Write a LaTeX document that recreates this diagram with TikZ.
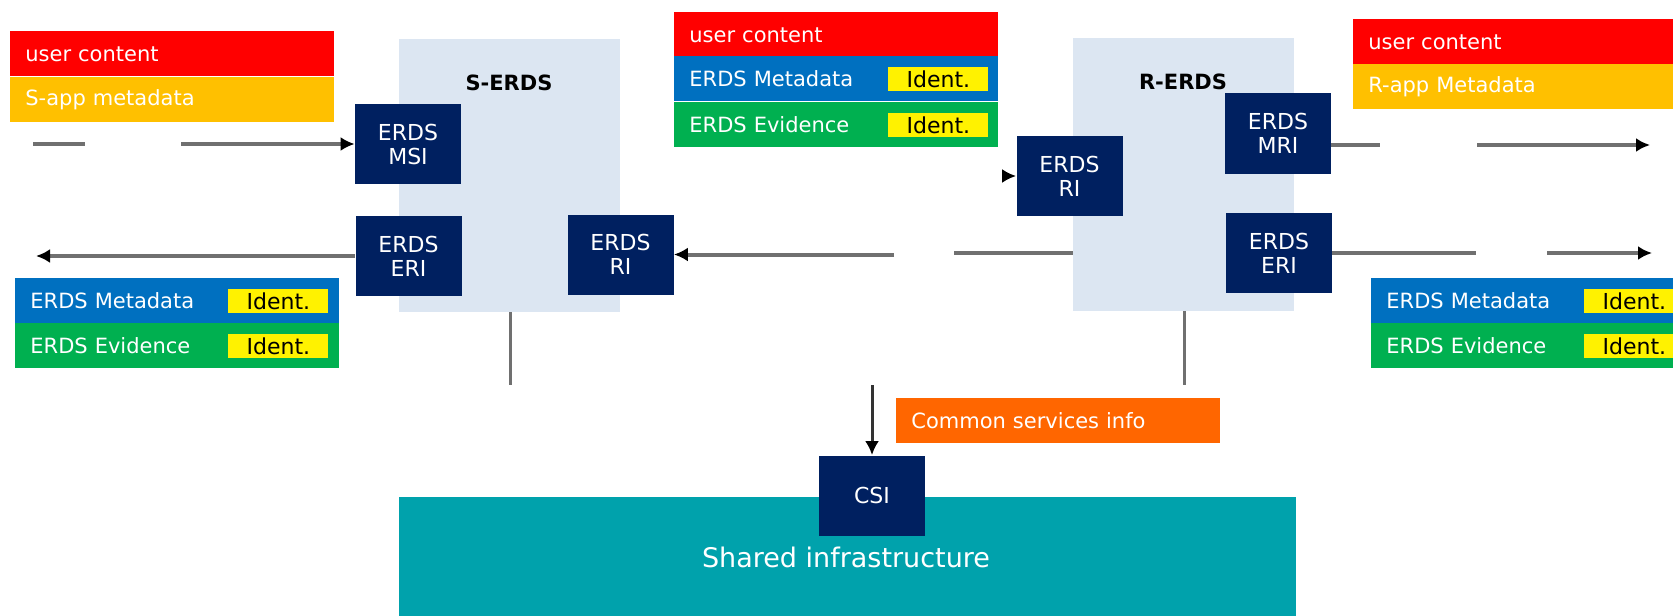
\documentclass[tikz,border=0pt]{standalone}
\usepackage{fontspec}
\setmainfont{DejaVu Sans}
\usetikzlibrary{arrows.meta}
\definecolor{navy}{HTML}{002060}
\definecolor{boxgrey}{HTML}{DCE6F2}
\definecolor{sapp}{HTML}{FFC000}
\definecolor{metablue}{HTML}{0070C0}
\definecolor{evgreen}{HTML}{00B050}
\definecolor{teal}{HTML}{00A2AC}
\definecolor{csorange}{HTML}{FF6600}
\definecolor{linegrey}{HTML}{707070}

\begin{document}
\begin{tikzpicture}[x=0.5pt,y=-0.5pt,>={Latex[length=7pt,width=7pt,color=black]},
	every node/.style={font=\fontsize{10.5}{12.5}\selectfont},
	band/.style={anchor=north west, text width=147pt, inner xsep=7.5pt, inner ysep=0pt, minimum height=22.5pt, align=left, text=white},
	ident/.style={anchor=east, fill=yellow, minimum width=50pt, minimum height=12pt, inner sep=0pt, text=black, font=\fontsize{11}{12}\selectfont},
	iface/.style={fill=navy, minimum width=53pt, minimum height=40pt, inner sep=0pt, align=center, text=white, font=\fontsize{11}{12}\selectfont},
	container/.style={fill=boxgrey, minimum width=110.5pt, minimum height=136.5pt, inner sep=0pt},
	conn/.style={draw=linegrey, line width=2pt},
	drop/.style={draw=linegrey, line width=1.5pt}]
		\useasboundingbox (0,0) rectangle (1673,615);
		% S-ERDS e R-ERDS
		\node [container] (serds) at (509.5,175.5) {};
		\node [container] (rerds) at (1183.5,174.5) {};
		\node [font=\bfseries\fontsize{10.5}{12.5}\selectfont] (sname) at (509,83) {S-ERDS};
		\node [font=\bfseries\fontsize{10.5}{12.5}\selectfont] (rname) at (1183,82) {R-ERDS};
		% Shared infrastructure
		\node [fill=teal, minimum width=448.5pt, minimum height=62pt, inner sep=0pt] (shared) at (847.5,559) {};
		\node [text=white, font=\fontsize{13.5}{15}\selectfont] (sharedtxt) at (846,557) {Shared infrastructure};
		% interfacce
		\node [iface] (msi) at (408,144) {ERDS\\MSI};
		\node [iface] (seri) at (408.5,256) {ERDS\\ERI};
		\node [iface] (sri) at (620.5,254.5) {ERDS\\RI};
		\node [iface] (rri) at (1069.5,176) {ERDS\\RI};
		\node [iface] (rmri) at (1278,133.5) {ERDS\\MRI};
		\node [iface] (reri) at (1279,253) {ERDS\\ERI};
		\node [iface] (csi) at (872,495.5) {CSI};
		% messaggi a sinistra
		\node [band, fill=red] (lcont) at (10,31) {user content};
		\node [band, fill=sapp] (lapp) at (10,77) {S-app metadata};
		\node [band, fill=metablue] (lmeta) at (15,278) {ERDS Metadata};
		\node [band, fill=evgreen] (levid) at (15,323) {ERDS Evidence};
		\node [ident] (lmetaid) at ([xshift=-5.5pt]lmeta.east) {Ident.};
		\node [ident] (levidid) at ([xshift=-5.5pt]levid.east) {Ident.};
		% messaggio centrale
		\node [band, fill=red] (mcont) at (674,12) {user content};
		\node [band, fill=metablue] (mmeta) at (674,56) {ERDS Metadata};
		\node [band, fill=evgreen] (mevid) at (674,102) {ERDS Evidence};
		\node [ident] (mmetaid) at ([xshift=-5pt]mmeta.east) {Ident.};
		\node [ident] (mevidid) at ([xshift=-5pt]mevid.east) {Ident.};
		% messaggi a destra
		\node [band, fill=red] (rcont) at (1353,19) {user content};
		\node [band, fill=sapp] (rapp) at (1353,64) {R-app Metadata};
		\node [band, fill=metablue] (rmeta) at (1371,278) {ERDS Metadata};
		\node [band, fill=evgreen] (revid) at (1371,323) {ERDS Evidence};
		\node [ident] (rmetaid) at ([xshift=-5.5pt]rmeta.east) {Ident.};
		\node [ident] (revidid) at ([xshift=-5.5pt]revid.east) {Ident.};
		% common services
		\node [band, fill=csorange] (csinfo) at (896,398) {Common services info};
		% estremi liberi
		\coordinate (sin0) at (33,144);
		\coordinate (sin1) at (85,144);
		\coordinate (sin2) at (181,144);
		\coordinate (sout) at (36,256);
		\coordinate (rgap0) at (954,253);
		\coordinate (rgap1) at (894,254.5);
		\coordinate (rri0) at (1003,176);
		\coordinate (rout0) at (1380,145);
		\coordinate (rout1) at (1477,145);
		\coordinate (rout2) at (1650,145);
		\coordinate (rer0) at (1476,253);
		\coordinate (rer1) at (1547,253);
		\coordinate (rer2) at (1652,253);
		\coordinate (sdrop) at (510,385);
		\coordinate (rdrop) at (1184,385);
		\coordinate (cdrop) at (872,385);
		% collegamenti
		\draw [conn] (sin0) -- (sin1);
		\draw [conn,->] (sin2) -- (msi.west);
		\draw [conn,->] (seri.west) -- (sout);
		\draw [conn] (rerds.west |- reri) -- (rgap0);
		\draw [conn,->] (rgap1) -- (sri.east);
		\draw [conn,->] (rri0) -- (rri.west);
		\draw [conn] (rmri.east |- rout0) -- (rout0);
		\draw [conn,->] (rout1) -- (rout2);
		\draw [conn] (reri.east) -- (rer0);
		\draw [conn,->] (rer1) -- (rer2);
		\draw [drop] (serds.south -| sdrop) -- (sdrop);
		\draw [drop] (rerds.south -| rdrop) -- (rdrop);
		\draw [drop,draw=black!80,->] (cdrop) -- (csi.north);
	\end{tikzpicture}
\end{document}
